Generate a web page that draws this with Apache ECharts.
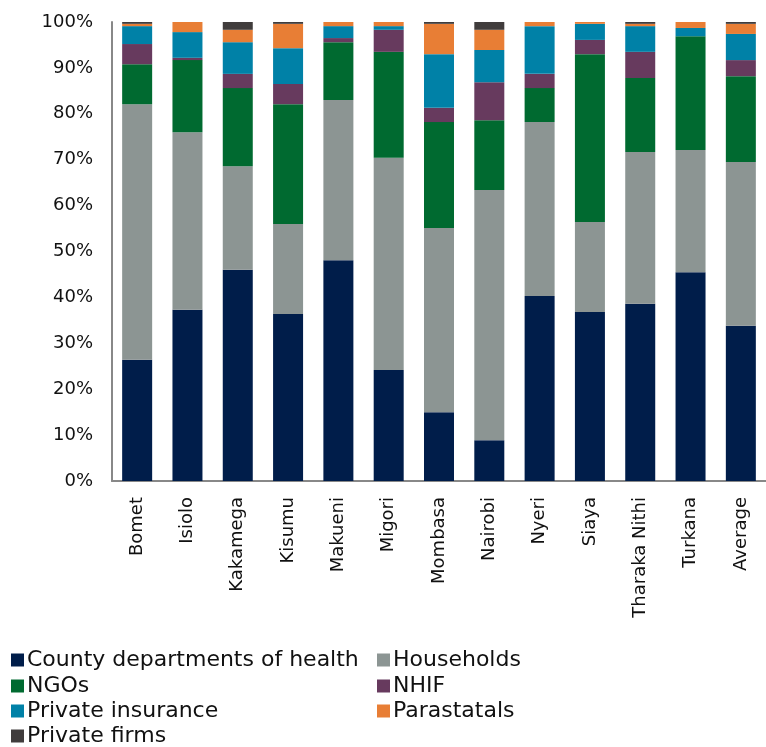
<!DOCTYPE html>
<html>
<head>
<meta charset="utf-8">
<script src="https://cdn.jsdelivr.net/npm/echarts@6/dist/echarts.min.js"></script>
<style>html,body{margin:0;padding:0;background:#fff}#c{width:766px;height:747px}</style>
</head>
<body>
<div id="c"></div>
<script>
var categories = ['Bomet','Isiolo','Kakamega','Kisumu','Makueni','Migori','Mombasa','Nairobi','Nyeri','Siaya','Tharaka Nithi','Turkana','Average'];
var county     = [26.4, 37.3, 46.0, 36.4, 48.1, 24.2, 15.0,  8.9, 40.3, 36.8, 38.6, 45.5, 33.8];
var households = [55.7, 38.7, 22.6, 19.6, 34.9, 46.2, 40.1, 54.5, 37.9, 19.6, 33.1, 26.6, 35.7];
var ngos       = [ 8.7, 15.7, 17.0, 26.1, 12.6, 23.1, 23.1, 15.2,  7.4, 36.6, 16.1, 24.8, 18.7];
var nhif       = [ 4.4,  0.5,  3.1,  4.4,  0.9,  4.8,  3.1,  8.3,  3.1,  3.1,  5.7,  0.0,  3.5];
var privIns    = [ 3.9,  5.6,  6.9,  7.8,  2.6,  0.8, 11.7,  7.0, 10.4,  3.5,  5.6,  1.8,  5.7];
var parastatal = [ 0.5,  2.2,  2.7,  5.3,  0.9,  0.9,  6.6,  4.4,  0.9,  0.4,  0.5,  1.3,  2.2];
var privFirms  = [ 0.4,  0.0,  1.7,  0.4,  0.0,  0.0,  0.4,  1.7,  0.0,  0.0,  0.4,  0.0,  0.4];
var yTicks = [0,10,20,30,40,50,60,70,80,90,100];

var names = ['County departments of health','Households','NGOs','NHIF','Private insurance','Parastatals','Private firms'];
var colors = ['#001D4A','#8C9593','#006A30','#673A5E','#0081A7','#E87E35','#403C3C'];
var datas = [county, households, ngos, nhif, privIns, parastatal, privFirms];
var FONT = 'DejaVu Sans';

var legendPos = [
  [11, 649], [377, 649],
  [11, 675], [377, 675],
  [11, 700], [377, 700],
  [11, 725]
];

var chart = echarts.init(document.getElementById('c'));
chart.setOption({
  animation: false,
  textStyle: {fontFamily: FONT},
  grid: {left: 112, top: 22, width: 666, height: 459, containLabel: false},
  legend: names.map(function(n, i){
    return {data: [n], left: legendPos[i][0], top: legendPos[i][1], icon: 'rect',
      itemWidth: 13, itemHeight: 13, padding: 0,
      textStyle: {fontSize: 22, color: '#111', fontFamily: FONT, padding: [0,0,0,-2]}};
  }),
  xAxis: {
    type: 'category', data: categories,
    axisLine: {show: true, lineStyle: {color: '#888', width: 2}},
    axisTick: {show: false},
    axisLabel: {rotate: 90, fontSize: 18, color: '#111', margin: 16, interval: 0, fontFamily: FONT}
  },
  yAxis: {
    type: 'value', min: yTicks[0], max: yTicks[yTicks.length-1], interval: 10,
    axisLine: {show: true, lineStyle: {color: '#888', width: 2}},
    axisTick: {show: false},
    splitLine: {show: false},
    axisLabel: {formatter: '{value}%', fontSize: 18, color: '#111', margin: 19, fontFamily: FONT}
  },
  series: names.map(function(n, i){
    return {name: n, type: 'bar', stack: 'total', barWidth: 30, data: datas[i],
      itemStyle: {color: colors[i]}};
  })
});
</script>
</body>
</html>
